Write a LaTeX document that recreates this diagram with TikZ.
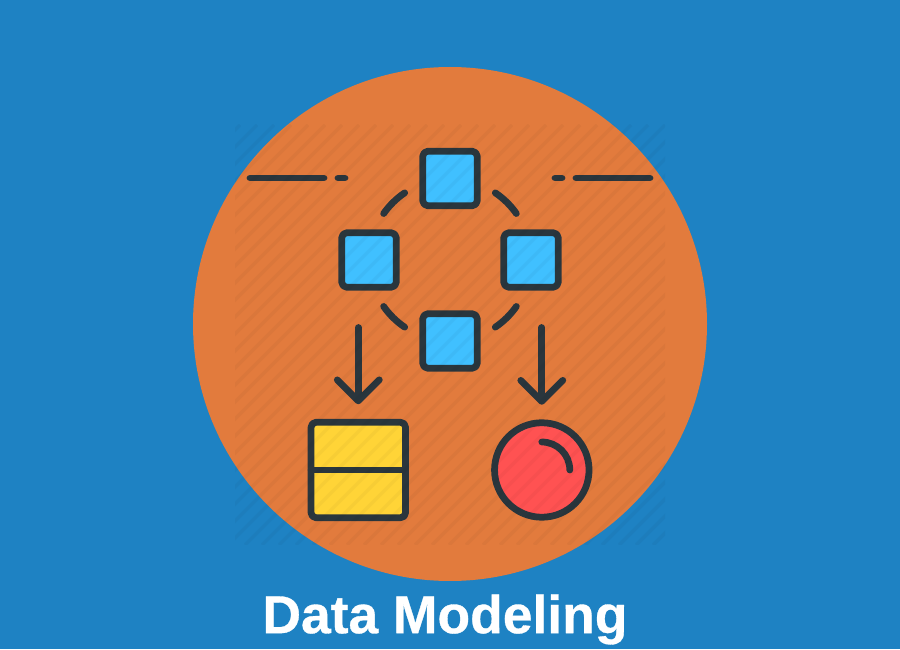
\documentclass[tikz,border=0pt]{standalone}
\usepackage{fontspec}
\setmainfont{Liberation Sans}
\newfontfamily\titlefont[FakeBold=0.6]{Liberation Sans Bold}
\usetikzlibrary{arrows.meta}
\definecolor{bgblue}{HTML}{1E82C3}
\definecolor{plateorange}{HTML}{E27B3D}
\definecolor{boxblue}{HTML}{40C0FF}
\definecolor{boxyellow}{HTML}{FFD437}
\definecolor{ballred}{HTML}{FF5252}
\definecolor{inkdark}{HTML}{2A363D}
\tikzset{
    iconline/.style={draw=inkdark,line width=0.135cm,line cap=round,line join=round},
    entitybox/.style={iconline,fill=boxblue,rectangle,rounded corners=0.1cm,
        minimum size=1.09cm,outer sep=0pt,inner sep=0pt},
    tablebox/.style={iconline,fill=boxyellow,rectangle,rounded corners=0.1cm,
        minimum width=1.89cm,minimum height=1.91cm,outer sep=0pt,inner sep=0pt},
    ballnode/.style={iconline,fill=ballred,circle,minimum size=1.89cm,outer sep=0pt,inner sep=0pt},
    flowline/.style={iconline,shorten >=0.36cm,-{Straight Barb[length=0.42cm,width=0.84cm,round]}}
}
\begin{document}
\begin{tikzpicture}
    \useasboundingbox (0,0) rectangle (18,12.98);
    \fill[bgblue] (0,0) rectangle (18,12.98);
    \node[circle,fill=plateorange,minimum size=10.28cm,inner sep=0pt,outer sep=0pt] (plate) at (9,6.5) {};

    % side dashes
    \draw[iconline] (5,9.42) -- (6.48,9.42);
    \draw[iconline] (6.76,9.42) -- (6.9,9.42);
    \draw[iconline] (11.1,9.42) -- (11.24,9.42);
    \draw[iconline] (11.52,9.42) -- (13,9.42);

    % ring of arcs
    \coordinate (ring) at (9,7.78);
    \foreach \a in {35,124,215,304}
        \draw[iconline] (ring) ++(\a:1.62) arc (\a:\a+21:1.62);

    \node[entitybox] (boxtop) at (9,9.41) {};
    \node[entitybox] (boxleft) at (7.38,7.78) {};
    \node[entitybox] (boxright) at (10.62,7.78) {};
    \node[entitybox] (boxbottom) at (9,6.16) {};

    \node[tablebox] (table) at (7.166,3.58) {};
    \draw[iconline] (table.west) -- (table.east);
    \node[ballnode] (ball) at (10.836,3.58) {};
    \draw[iconline] (ball) ++(90:0.56) arc (90:0:0.56);

    % arrows
    \coordinate (flowa) at (7.166,6.43);
    \coordinate (flowb) at (10.836,6.43);
    \draw[flowline] (flowa) -- (table);
    \draw[flowline] (flowb) -- (ball);

    % stripes over everything
    \begin{scope}
        \clip (4.7,2.08) rectangle (13.3,10.48);
        \foreach \x in {-3.6,-3.26,...,13.3}
            \draw[black,opacity=0.03,line width=0.07cm] (\x,2.08) -- (\x+8.4,10.48);
    \end{scope}

    \node[anchor=base,text=white,font=\titlefont\fontsize{30.4}{36}\selectfont,inner sep=0pt] (title) at (8.9,0.316) {Data Modeling};
\end{tikzpicture}
\end{document}
